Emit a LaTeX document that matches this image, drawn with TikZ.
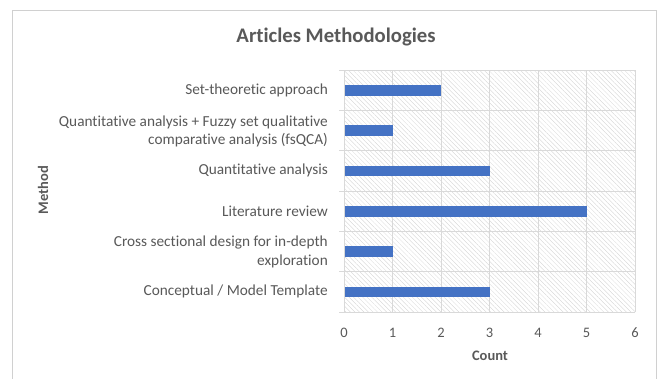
\documentclass[tikz,border=0pt]{standalone}
\usepackage{fontspec}
\setmainfont{Carlito}[Ligatures=NoCommon]
\usetikzlibrary{patterns.meta}
\definecolor{barc}{HTML}{4472C4}
\definecolor{txt}{HTML}{595959}
\definecolor{gridc}{HTML}{D9D9D9}
\definecolor{framec}{HTML}{D0D0D0}
\tikzset{
  lbl/.style={text=txt, font=\fontsize{15.3}{18.5}\selectfont, anchor=east, align=right, inner sep=0pt},
  tick/.style={text=txt, font=\fontsize{14.5}{16}\selectfont, inner sep=0pt},
  axt/.style={text=txt, font=\fontsize{14.5}{16}\selectfont\bfseries, inner sep=0pt},
  bar/.style={fill=barc, draw=none},
  gridl/.style={draw=gridc, line width=0.8pt},
}
\begin{document}
\begin{tikzpicture}[x=1pt,y=-1pt]
\useasboundingbox (0,0) rectangle (660,378);
\fill[white] (0,0) rectangle (660,378);
% frame
\draw[framec, line width=0.8pt] (12.5,380) -- (12.5,10) -- (656,10) -- (656,380);
% title
\node[text=txt, font=\fontsize{20.7}{22}\selectfont\bfseries, inner sep=0pt] (title) at (336,37) {Articles Methodologies};
% plot area hatch
\pattern[pattern={Lines[angle=-45,distance=3.2pt,line width=0.3pt]}, pattern color=black!18] (344,70) rectangle (635,312);
% vertical grid
\foreach \i in {1,...,6} { \draw[gridl] (344+48.5*\i,70) -- (344+48.5*\i,312); }
% horizontal grid
\foreach \j in {0,...,6} { \draw[gridl] (339,70+40.33*\j) -- (635,70+40.33*\j); }
\draw[gridl] (344,70) -- (344,312);
% bars
\foreach \v/\c in {2/90.7, 1/130.5, 3/170.8, 5/211.2, 1/251.5, 3/291.8} {
  \fill[bar] (344.5,\c-5.3) rectangle (344+48.5*\v,\c+5.3);
}
\node[lbl] (l1) at (328,90.5) {Set-theoretic approach};
\node[lbl] (l2) at (328,131.5) {Quantitative analysis + Fuzzy set qualitative\\comparative analysis (fsQCA)};
\node[lbl] (l3) at (328,170.8) {Quantitative analysis};
\node[lbl] (l4) at (328,211.2) {Literature review};
\node[lbl] (l5) at (328,252) {Cross sectional design for in-depth\\exploration};
\node[lbl] (l6) at (328,291.8) {Conceptual / Model Template};
% x tick labels
\foreach \k in {0,...,6} { \node[tick] (t\k) at (344+48.5*\k,333) {\k}; }
\node[axt] (xt) at (490,356) {Count};
\node[axt, rotate=90] (yt) at (43,190) {Method};
\end{tikzpicture}
\end{document}
